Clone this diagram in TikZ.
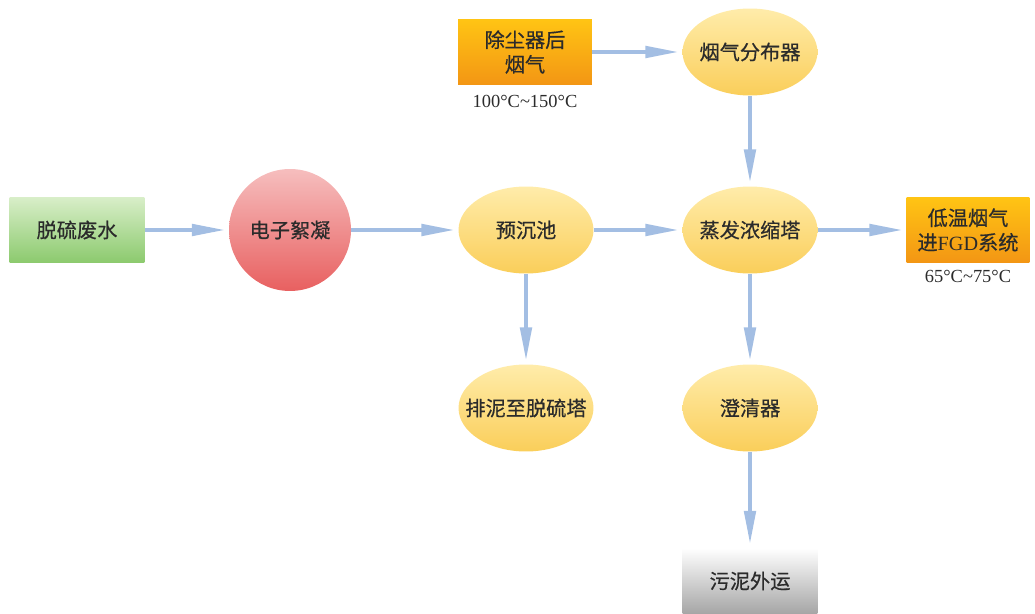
\documentclass[tikz,border=0pt]{standalone}
\usepackage{fontspec}
\setmainfont{Liberation Serif}
\newfontfamily\cjk[FakeBold=0.5]{Noto Sans CJK SC}
\usetikzlibrary{shapes.geometric,arrows.meta}
\definecolor{arrowblue}{HTML}{A3BEE3}
\definecolor{txt}{HTML}{2B2B2B}
\begin{document}
\begin{tikzpicture}[x=0.02cm,y=-0.02cm,
  every node/.style={text=txt, font=\cjk\fontsize{11.5}{14}\selectfont, align=center, inner sep=0pt},
  greenbox/.style={rectangle, minimum width=2.7cm, minimum height=1.3cm, top color={rgb,255:red,216;green,238;blue,200}, bottom color={rgb,255:red,140;green,202;blue,110}},
  redball/.style={circle, minimum size=2.44cm, top color={rgb,255:red,246;green,190;blue,190}, bottom color={rgb,255:red,232;green,96;blue,96}},
  yellowell/.style={ellipse, inner xsep=-14pt, minimum width=2.7cm, minimum height=1.74cm, top color={rgb,255:red,255;green,236;blue,170}, bottom color={rgb,255:red,250;green,206;blue,90}},
  orangebox/.style={rectangle, minimum height=1.3cm, top color={rgb,255:red,255;green,196;blue,20}, bottom color={rgb,255:red,243;green,150;blue,20}},
  graybox/.style={rectangle, minimum width=2.7cm, minimum height=1.32cm, top color=white, bottom color={rgb,255:red,165;green,165;blue,165}},
  templabel/.style={font=\fontsize{10.5}{12}\selectfont},
  flow/.style={draw=arrowblue, line width=2.2pt, -{Triangle[length=19pt,width=6.5pt]}, shorten >=2pt}
]
\useasboundingbox (0,0) rectangle (1035,614);

\node[greenbox] (ww) at (77,230) {脱硫废水};
\node[redball] (ec) at (290,230) {电子絮凝};
\node[yellowell] (pre) at (526,230) {预沉池};
\node[yellowell] (evap) at (750,230) {蒸发浓缩塔};
\node[yellowell] (dist) at (750,52) {烟气分布器};
\node[orangebox, minimum width=2.68cm] (flue) at (525,52) {除尘器后\\烟气};
\node[templabel] (t1) at (525,101) {100°C\textasciitilde150°C};
\node[orangebox, minimum width=2.46cm] (fgd) at (968,230) {低温烟气\\进{\fontspec{Liberation Serif}FGD}系统};
\node[templabel] (t2) at (968,276) {65°C\textasciitilde75°C};
\node[yellowell] (sludge) at (526,408) {排泥至脱硫塔};
\node[yellowell] (clar) at (750,408) {澄清器};
\node[graybox] (out) at (750,581) {污泥外运};

\draw[flow] (ww) -- (ec);
\draw[flow] (ec) -- (pre);
\draw[flow] (pre) -- (evap);
\draw[flow] (evap) -- (fgd);
\draw[flow] (flue) -- (dist);
\draw[flow] (dist) -- (evap);
\draw[flow] (pre) -- (sludge);
\draw[flow] (evap) -- (clar);
\draw[flow] (clar) -- (out);
\end{tikzpicture}
\end{document}
